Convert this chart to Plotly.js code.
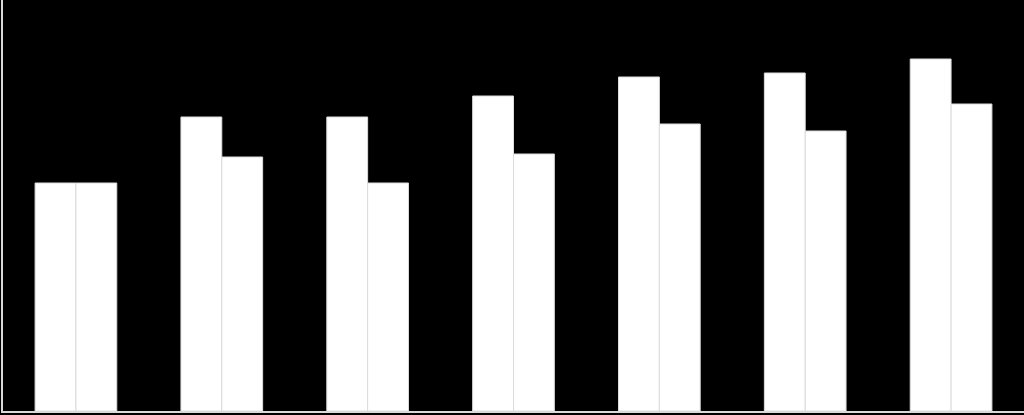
<!DOCTYPE html>
<html>
<head>
<meta charset="utf-8">
<script src="https://cdn.plot.ly/plotly-3.0.1.min.js"></script>
<style>
  html, body { margin: 0; padding: 0; background: #000; }
  #chart { width: 1024px; height: 415px; }
</style>
</head>
<body>
<div id="chart"></div>
<script>
// categories and two series
var categories = ["1", "2", "3", "4", "5", "6", "7"];
var seriesA = [228, 294, 294, 315, 334, 338, 352];
var seriesB = [228, 254, 228, 257, 287, 280, 307];

var barStyle = {
    color: "#ffffff",
    line: { color: "#dcdcdc", width: 1 }
};

var traceA = {
    x: categories,
    y: seriesA,
    type: "bar",
    marker: barStyle,
    hoverinfo: "none"
};

var traceB = {
    x: categories,
    y: seriesB,
    type: "bar",
    marker: barStyle,
    hoverinfo: "none"
};

var layout = {
    width: 1024,
    height: 415,
    paper_bgcolor: "#000000",
    plot_bgcolor: "#000000",
    showlegend: false,
    barmode: "group",
    bargap: 0.44,
    bargroupgap: 0,
    margin: { l: 3, r: 0, t: 0, b: 4, pad: 0 },
    xaxis: {
        showline: true,
        linecolor: "#d9d9d9",
        linewidth: 2,
        showgrid: false,
        zeroline: false,
        showticklabels: false,
        ticks: ""
    },
    yaxis: {
        range: [0, 411],
        showline: true,
        linecolor: "#d9d9d9",
        linewidth: 2,
        showgrid: false,
        zeroline: false,
        showticklabels: false,
        ticks: ""
    }
};

Plotly.newPlot("chart", [traceA, traceB], layout, { displayModeBar: false, staticPlot: true });
</script>
</body>
</html>
